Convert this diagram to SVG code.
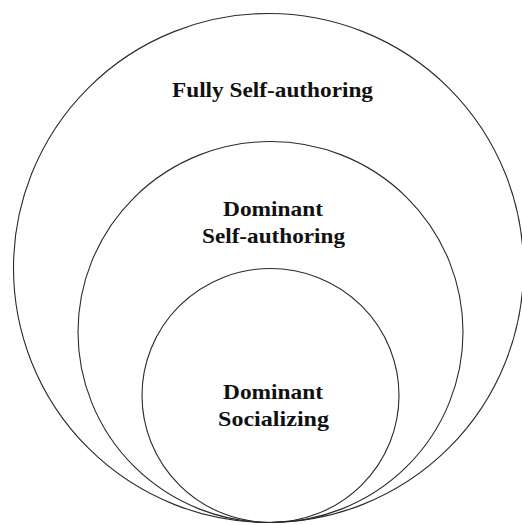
<svg xmlns="http://www.w3.org/2000/svg" width="522" height="525" viewBox="0 0 522 525">
  <style>
    .ring { fill: none; stroke: #2a2a2a; stroke-width: 1.1; }
    .label { font-family: "Liberation Serif", "Times New Roman", serif; font-weight: bold; font-size: 22px; fill: #111; text-anchor: middle; }
  </style>
  <rect width="522" height="525" fill="#ffffff"/>
  <g id="fully-self-authoring">
    <ellipse class="ring" cx="268.5" cy="268" rx="255" ry="254.5"/>
    <text class="label" x="272.5" y="97" textLength="201" lengthAdjust="spacingAndGlyphs">Fully Self-authoring</text>
  </g>
  <g id="dominant-self-authoring">
    <ellipse class="ring" cx="270.5" cy="332" rx="192.5" ry="190.5"/>
    <text class="label" x="273" y="216" textLength="100" lengthAdjust="spacingAndGlyphs">Dominant</text>
    <text class="label" x="273.5" y="243" textLength="143" lengthAdjust="spacingAndGlyphs">Self-authoring</text>
  </g>
  <g id="dominant-socializing">
    <ellipse class="ring" cx="270.5" cy="395.5" rx="128.5" ry="127"/>
    <text class="label" x="273" y="399" textLength="100" lengthAdjust="spacingAndGlyphs">Dominant</text>
    <text class="label" x="273.5" y="426" textLength="111" lengthAdjust="spacingAndGlyphs">Socializing</text>
  </g>
  <g id="connectors"/>
</svg>
